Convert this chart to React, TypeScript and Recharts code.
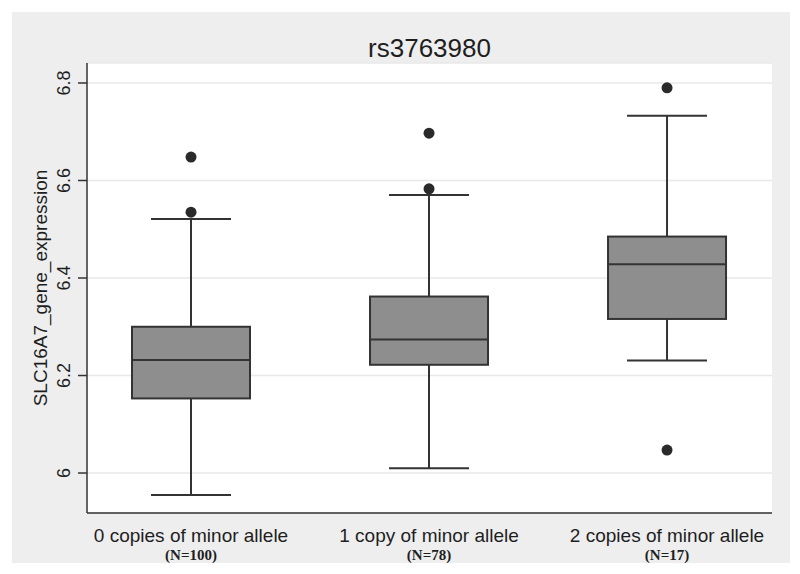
import React from "react";
import { ComposedChart, Bar, Scatter, XAxis, YAxis, CartesianGrid } from "recharts";

const categories = ["0 copies of minor allele", "1 copy of minor allele", "2 copies of minor allele"];
const sampleSizes = ["(N=100)", "(N=78)", "(N=17)"];
const positions = [1, 2, 3];
const q1 = [6.153, 6.222, 6.316];
const medians = [6.232, 6.274, 6.428];
const q3 = [6.3, 6.362, 6.485];
const whiskerLow = [5.955, 6.01, 6.231];
const whiskerHigh = [6.521, 6.57, 6.733];
const outlierX = [1, 1, 2, 2, 3, 3];
const outlierY = [6.648, 6.535, 6.697, 6.583, 6.79, 6.047];
const yTicks = [6, 6.2, 6.4, 6.6, 6.8];
const title = "rs3763980";
const yLabel = "SLC16A7_gene_expression";

const boxData = positions.map((x, i) => ({
  x,
  box: [q1[i], q3[i]],
  q1: q1[i],
  q3: q3[i],
  median: medians[i],
  lo: whiskerLow[i],
  hi: whiskerHigh[i],
}));
const outlierData = outlierX.map((x, i) => ({ x, y: outlierY[i] }));

const W = 784;
const H = 558;
const STROKE = "#333333";

const BoxShape = (props: any) => {
  const { x, y, width, height, payload } = props;
  const top = Math.min(y, y + height);
  const h = Math.abs(height);
  const scale = h / (payload.q3 - payload.q1);
  const yOf = (v: number) => top + (payload.q3 - v) * scale;
  const cx = x + width / 2;
  const capHalf = 40;
  return (
    <g>
      <line x1={cx} x2={cx} y1={yOf(payload.hi)} y2={top} stroke={STROKE} strokeWidth={2} />
      <line x1={cx} x2={cx} y1={top + h} y2={yOf(payload.lo)} stroke={STROKE} strokeWidth={2} />
      <line x1={cx - capHalf} x2={cx + capHalf} y1={yOf(payload.hi)} y2={yOf(payload.hi)} stroke={STROKE} strokeWidth={2} />
      <line x1={cx - capHalf} x2={cx + capHalf} y1={yOf(payload.lo)} y2={yOf(payload.lo)} stroke={STROKE} strokeWidth={2} />
      <rect x={x} y={top} width={width} height={h} fill="#8e8e8e" stroke={STROKE} strokeWidth={2} />
      <line x1={x} x2={x + width} y1={yOf(payload.median)} y2={yOf(payload.median)} stroke={STROKE} strokeWidth={2} />
    </g>
  );
};

const Dot = (props: any) => {
  const { cx, cy } = props;
  return <circle cx={cx} cy={cy} r={5.5} fill="#2a2a2a" />;
};

const XTick = (props: any) => {
  const { x, y, payload } = props;
  const i = positions.indexOf(payload.value);
  if (i < 0) return null;
  return (
    <g>
      <text x={x} y={y} dy={27} textAnchor="middle" fontFamily="'Liberation Sans', Arial, sans-serif" fontSize={19} fill="#1e1e1e">
        {categories[i]}
      </text>
      <text x={x} y={y} dy={45} textAnchor="middle" fontFamily="'Liberation Serif', 'Times New Roman', serif" fontWeight="bold" fontSize={15} fill="#1e1e1e">
        {sampleSizes[i]}
      </text>
    </g>
  );
};

const YTick = (props: any) => {
  const { y, payload } = props;
  return (
    <text
      transform={`translate(62,${y}) rotate(-90)`}
      textAnchor="middle"
      fontFamily="'Liberation Sans', Arial, sans-serif"
      fontSize={18}
      fill="#1e1e1e"
    >
      {String(payload.value)}
    </text>
  );
};

export default function App() {
  return (
    <div style={{ position: "relative", width: W, height: H }}>
      <div style={{ position: "absolute", left: 4, top: 4, width: 778, height: 551, background: "#eeeeee" }} />
      <div style={{ position: "absolute", left: 0, top: 0 }}>
        <ComposedChart width={W} height={H} data={boxData} margin={{ top: 55, right: 20, left: 0, bottom: 0 }}>
          <CartesianGrid fill="#ffffff" stroke="#e8e8e8" strokeWidth={1.5} vertical={false} />
          <XAxis
            dataKey="x"
            type="number"
            domain={[0.563, 3.441]}
            ticks={positions}
            allowDataOverflow
            height={53}
            tickLine={false}
            tickSize={0}
            tick={<XTick />}
            stroke={STROKE}
            axisLine={{ stroke: STROKE, strokeWidth: 1.5 }}
            interval={0}
          />
          <YAxis
            type="number"
            domain={[5.918, 6.841]}
            ticks={yTicks}
            allowDataOverflow
            width={79}
            tickSize={9}
            tick={<YTick />}
            tickLine={{ stroke: STROKE, strokeWidth: 1.5 }}
            axisLine={{ stroke: STROKE, strokeWidth: 1.5 }}
            interval={0}
          />
          <Bar dataKey="box" barSize={118} shape={<BoxShape />} isAnimationActive={false} />
          <Scatter data={outlierData} dataKey="y" shape={<Dot />} isAnimationActive={false} />
        </ComposedChart>
      </div>
      <svg style={{ position: "absolute", left: 0, top: 0, pointerEvents: "none" }} width={W} height={H}>
        <text x={421.5} y={49} textAnchor="middle" fontFamily="'Liberation Sans', Arial, sans-serif" fontSize={26} fill="#1e1e1e">
          {title}
        </text>
        <text
          transform="translate(39,280) rotate(-90)"
          textAnchor="middle"
          fontFamily="'Liberation Sans', Arial, sans-serif"
          fontSize={19}
          fill="#1e1e1e"
        >
          {yLabel}
        </text>
      </svg>
    </div>
  );
}
